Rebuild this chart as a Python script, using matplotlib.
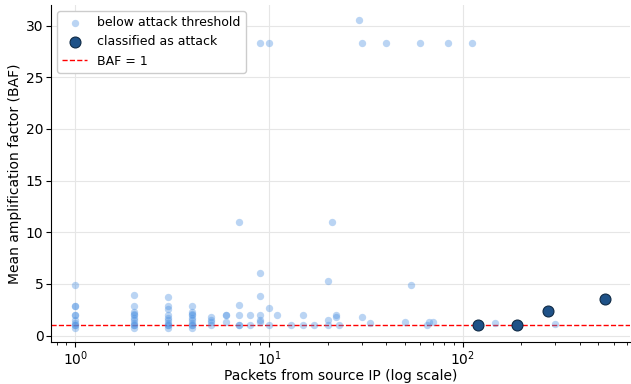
import numpy as np
import matplotlib.pyplot as plt

# Packets per source IP and mean BAF
light_packets = ([1] * 10 + [2] * 11 + [3] * 10 + [4] * 10 + [5] * 4 + [6] * 3
                 + [7] * 5 + [8] * 2 + [9] * 6 + [10] * 3
                 + [11, 13, 15, 15, 17, 20, 20, 20, 21, 22, 22, 23, 29, 30, 30, 33,
                    40, 50, 54, 60, 65, 67, 70, 84, 111, 146, 300])
light_baf = ([4.85, 2.9, 2.9, 1.96, 1.96, 1.5, 1.25, 1.0, 1.0, 0.74]
             + [3.95, 2.9, 2.28, 2.1, 1.96, 1.7, 1.48, 1.25, 1.0, 1.0, 0.74]
             + [3.7, 2.85, 2.6, 1.96, 1.7, 1.48, 1.25, 1.0, 1.0, 0.74]
             + [2.9, 2.28, 2.12, 1.96, 1.7, 1.48, 1.25, 1.0, 1.0, 0.74]
             + [1.77, 1.5, 1.3, 1.0]
             + [1.96, 1.96, 1.32]
             + [11.0, 2.92, 1.96, 1.0, 1.0]
             + [1.96, 1.0]
             + [28.3, 6.1, 3.79, 1.96, 1.47, 1.3]
             + [28.3, 2.63, 1.0]
             + [1.96, 1.0, 1.96, 1.0, 1.0, 5.33, 1.47, 1.0, 11.0, 2.02, 1.75, 1.0,
                30.5, 28.3, 1.75, 1.19, 28.3, 1.28, 4.9, 28.3, 1.0, 1.35, 1.35,
                28.3, 28.3, 1.2, 1.15])

attack_packets = [119, 190, 274, 540]
attack_baf = [1.0, 1.0, 2.34, 3.5]

baf_threshold = 1

fig, ax = plt.subplots(figsize=(6.31, 3.84), dpi=100)
fig.subplots_adjust(left=0.081, right=0.998, bottom=0.11, top=0.987)

ax.scatter(light_packets, light_baf, s=28, color="#4a90e2", alpha=0.38,
           linewidths=0, label="below attack threshold", zorder=2)
ax.scatter(attack_packets, attack_baf, s=62, color="#1f5288",
           edgecolors="#0f2a45", linewidths=0.8, label="classified as attack", zorder=3)
ax.axhline(baf_threshold, color="red", linestyle="--", linewidth=1.0,
           label="BAF = 1", zorder=1)

ax.set_xscale("log")
ax.set_xlim(0.75, 725)
ax.set_ylim(-0.6, 32)
ax.set_yticks([0, 5, 10, 15, 20, 25, 30])
ax.tick_params(which="both", pad=2)
ax.grid(True, color="#e6e6e6", linewidth=0.8, zorder=0)
ax.set_axisbelow(True)
ax.spines["top"].set_visible(False)
ax.spines["right"].set_visible(False)

ax.set_xlabel("Packets from source IP (log scale)", labelpad=0.5)
ax.set_ylabel("Mean amplification factor (BAF)", labelpad=3)
ax.legend(loc="upper left", fontsize=9, framealpha=1, edgecolor="#cccccc")

fig.savefig("out.png", dpi=100)
